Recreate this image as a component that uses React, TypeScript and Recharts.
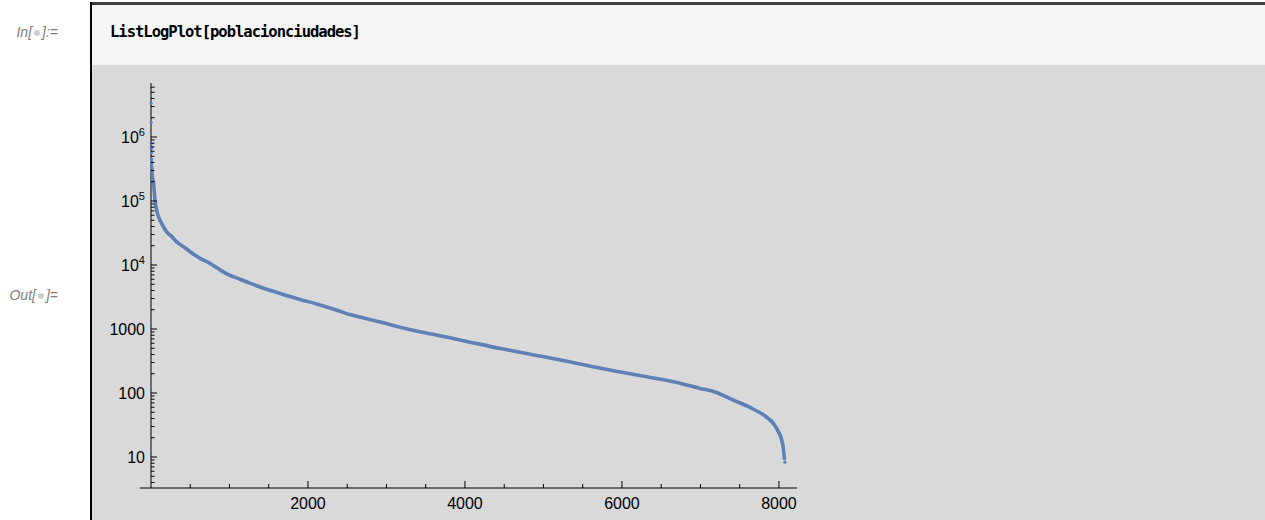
import { ComposedChart, Line, Scatter, XAxis, YAxis, ReferenceLine } from 'recharts'

// ranks / populations
const TOP_RANK = [1, 2, 3, 4, 5, 6, 7, 8, 9, 10, 11, 12, 13, 14, 15, 16, 17, 18, 19, 20, 8077]
const TOP_POP = [3370000, 1690000, 790000, 690000, 665000, 570000, 450000, 415000, 380000, 345000, 330000, 325000, 300000, 295000, 272000, 265000, 250000, 245000, 232000, 230000, 8.3]

const CURVE_RANK = [20, 30, 51, 72, 115, 157, 200, 263, 327, 412, 497, 624, 752, 879, 1006, 1134, 1261, 1474, 1686, 1898, 2110, 2322, 2535, 2747, 2959, 3172, 3384, 3596, 3809, 4021, 4233, 4446, 4616, 5041, 5465, 5890, 6315, 6740, 6995, 7185, 7419, 7631, 7843, 7928, 7992, 8035, 8056, 8065, 8070]
const CURVE_POP = [230000, 200000, 104000, 72000, 50000, 40000, 33000, 28000, 23000, 19400, 16200, 12700, 10600, 8400, 6900, 6000, 5200, 4170, 3470, 2900, 2460, 2050, 1680, 1450, 1250, 1070, 930, 825, 730, 640, 565, 495, 455, 362, 284, 223, 179, 142, 118, 104, 77.5, 59.6, 41.8, 33.6, 25, 18.5, 13.7, 10.7, 9.5]

const X_TICKS = [500, 1000, 1500, 2000, 2500, 3000, 3500, 4000, 4500, 5000, 5500, 6000, 6500, 7000, 7500, 8000]
const X_LABELED = [2000, 4000, 6000, 8000]
const Y_MAJOR = [10, 100, 1000, 10000, 100000, 1000000]
const Y_MINOR_STEPS = [2, 3, 4, 5, 6, 7, 8, 9]

const X_DOMAIN = [-140, 8230]
const Y_DOMAIN = [3.28, 6980000]

const topData = TOP_RANK.map((n, i) => ({ n, v: TOP_POP[i] }))
const curveData = CURVE_RANK.map((n, i) => ({ n, v: CURVE_POP[i] }))

const yTicks = [1, ...Y_MAJOR]
  .flatMap((d) => [d, ...Y_MINOR_STEPS.map((s) => d * s)])
  .filter((v) => v >= Y_DOMAIN[0] && v <= Y_DOMAIN[1])

const BLUE = '#5e81b5'
const CHART_W = 1173
const CHART_H = 455
const MARGIN = { top: 18, right: 468, bottom: 0, left: 0 }
const Y_AXIS_W = 48
const PLOT_W = CHART_W - MARGIN.left - MARGIN.right - Y_AXIS_W
// pixel distance from the plot's left edge to x = 0
const AXIS_OFFSET = ((0 - X_DOMAIN[0]) * PLOT_W) / (X_DOMAIN[1] - X_DOMAIN[0])

const FONT = '"Liberation Sans", Arial, sans-serif'

function YTick({ x, y, payload }: any) {
  const v = payload.value
  const ax = x + AXIS_OFFSET
  const major = Y_MAJOR.includes(v)
  const exp = Math.round(Math.log10(v))
  return (
    <g>
      <line x1={ax} x2={ax + (major ? 6 : 3.5)} y1={y} y2={y} stroke="#000" strokeWidth={1} />
      {major && (
        <text x={ax - 6} y={y + 6} textAnchor="end" fontSize={16} fontFamily={FONT} fill="#000">
          {v >= 10000 ? (
            <>
              10<tspan dy={-7} fontSize={11}>{exp}</tspan>
            </>
          ) : (
            String(v)
          )}
        </text>
      )}
    </g>
  )
}

function XTick({ x, y, payload }: any) {
  const major = X_LABELED.includes(payload.value)
  return (
    <g>
      <line x1={x} x2={x} y1={y} y2={y - (major ? 7 : 4)} stroke="#000" strokeWidth={1} />
      {major && (
        <text x={x} y={y + 21} textAnchor="middle" fontSize={16} fontFamily={FONT} fill="#000">
          {payload.value}
        </text>
      )}
    </g>
  )
}

function Dot({ cx, cy }: any) {
  return <circle cx={cx} cy={cy} r={1.6} fill={BLUE} />
}

function Bullet() {
  return (
    <span
      style={{
        display: 'inline-block', width: 6, height: 6, borderRadius: '50%',
        background: '#cfcfcf', margin: '0 2px', verticalAlign: 'middle',
      }}
    />
  )
}

export default function App() {
  const label = {
    position: 'absolute' as const, left: 0, width: 58, textAlign: 'right' as const,
    fontFamily: FONT, fontStyle: 'italic', fontSize: 14, color: '#808080', lineHeight: '20px',
  }
  return (
    <div style={{ position: 'relative', width: 1265, height: 520, overflow: 'hidden', background: '#fff' }}>
      <style>{'body{margin:0}'}</style>
      <div style={{ position: 'absolute', left: 90, top: 2, width: 1175, height: 3, background: '#404040' }} />
      <div style={{ position: 'absolute', left: 90, top: 2, width: 2, height: 518, background: '#000' }} />
      <div style={{ position: 'absolute', left: 92, top: 5, width: 1173, height: 60, background: '#f5f5f5' }} />
      <div style={{ position: 'absolute', left: 92, top: 65, width: 1173, height: 455, background: '#d9d9d9' }} />

      <div style={{ ...label, top: 22 }}>In[<Bullet />]:=</div>
      <div style={{ ...label, top: 285 }}>Out[<Bullet />]=</div>

      <div
        style={{
          position: 'absolute', left: 110, top: 20, lineHeight: '24px', letterSpacing: -1,
          fontFamily: '"DejaVu Sans Mono", monospace', fontWeight: 'bold', fontSize: 15.5, color: '#000',
        }}
      >
        ListLogPlot[poblacionciudades]
      </div>

      <div style={{ position: 'absolute', left: 92, top: 65 }}>
        <ComposedChart width={CHART_W} height={CHART_H} margin={MARGIN}>
          <XAxis
            dataKey="n"
            type="number"
            domain={X_DOMAIN}
            allowDataOverflow
            ticks={X_TICKS}
            interval={0}
            height={32}
            tickSize={0}
            tickMargin={0}
            tickLine={false}
            axisLine={{ stroke: '#000', strokeWidth: 1 }}
            tick={<XTick />}
          />
          <YAxis
            dataKey="v"
            type="number"
            scale="log"
            domain={Y_DOMAIN}
            allowDataOverflow
            ticks={yTicks}
            interval={0}
            width={Y_AXIS_W}
            tickSize={0}
            tickMargin={0}
            tickLine={false}
            axisLine={false}
            tick={<YTick />}
          />
          <ReferenceLine x={0} stroke="#000" strokeWidth={1} />
          <Line
            data={curveData}
            dataKey="v"
            type="monotone"
            stroke={BLUE}
            strokeWidth={3.6}
            strokeLinecap="round"
            dot={false}
            isAnimationActive={false}
          />
          <Scatter data={topData} dataKey="v" fill={BLUE} shape={<Dot />} isAnimationActive={false} />
        </ComposedChart>
      </div>
    </div>
  )
}
